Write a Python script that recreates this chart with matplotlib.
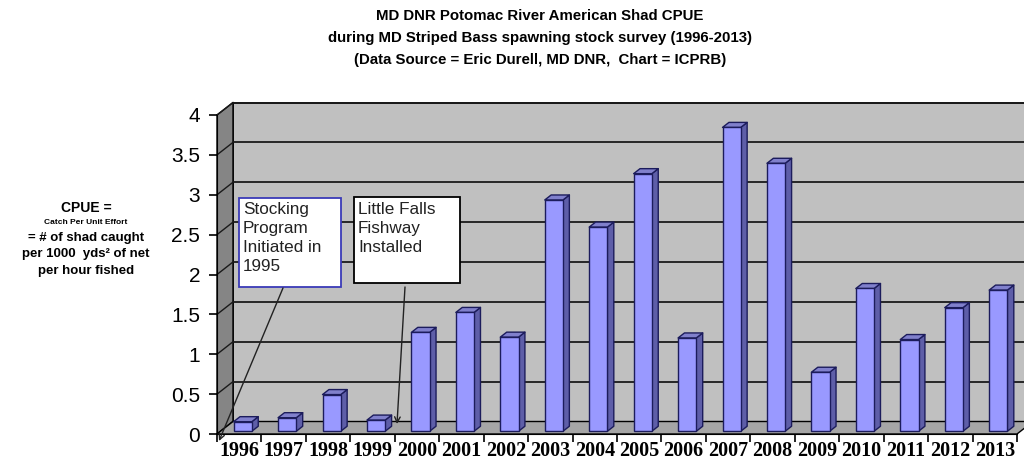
import numpy as np
import matplotlib
matplotlib.use('Agg')
import matplotlib.pyplot as plt
from matplotlib import font_manager
from matplotlib.patches import Polygon, Rectangle
from matplotlib.collections import PolyCollection

years = [str(y) for y in range(1996, 2014)]
cpue = [0.12, 0.17, 0.46, 0.14, 1.24, 1.49, 1.18, 2.90, 2.56,
        3.23, 1.17, 3.81, 3.36, 0.74, 1.79, 1.15, 1.55, 1.77]
yticks = [0, 0.5, 1, 1.5, 2, 2.5, 3, 3.5, 4]
ytick_labels = ['0', '0.5', '1', '1.5', '2', '2.5', '3', '3.5', '4']

title_lines = ['MD DNR Potomac River American Shad CPUE',
               'during MD Striped Bass spawning stock survey (1996-2013)',
               '(Data Source = Eric Durell, MD DNR,  Chart = ICPRB)']

# fonts
names = {f.name for f in font_manager.fontManager.ttflist}
narrow = 'Liberation Sans Narrow' if 'Liberation Sans Narrow' in names else None

W, H = 1024, 470
fig = plt.figure(figsize=(W / 100, H / 100), dpi=100)
fig.patch.set_facecolor('white')

# front plane of the 3d box: x -0.5..17.5 -> 217..1017 px, y 0..4 -> 434..115 px
ax = fig.add_axes([217 / W, (H - 434) / H, 800 / W, 319 / H])
ax.set_xlim(-0.5, 17.5)
ax.set_ylim(0, 4)
ax.patch.set_alpha(0)

n = len(cpue)
x = np.arange(n)
vals = np.array(cpue)

# depth offset of the back wall in data units
ddx = 16 / (800 / 18)
ddy = 12.5 / (319 / 4)
x0, x1 = -0.5, 17.5

wall = '#c0c0c0'
back = Polygon([(x0 + ddx, ddy), (x1 + ddx, ddy), (x1 + ddx, 4 + ddy), (x0 + ddx, 4 + ddy)],
               closed=True, facecolor=wall, edgecolor='black', lw=1.2, clip_on=False, zorder=1)
ax.add_patch(back)
side = Polygon([(x0, 0), (x0 + ddx, ddy), (x0 + ddx, 4 + ddy), (x0, 4)],
               closed=True, facecolor='#858585', edgecolor='black', lw=1.0, clip_on=False, zorder=1)
ax.add_patch(side)
floor = Polygon([(x0, 0), (x1, 0), (x1 + ddx, ddy), (x0 + ddx, ddy)],
                closed=True, facecolor='#a6a6a6', edgecolor='black', lw=1.0, clip_on=False, zorder=2)
ax.add_patch(floor)

# gridlines on the back wall and the side wall
for v in yticks[1:]:
    ax.plot([x0 + ddx, x1 + ddx], [v + ddy, v + ddy], color='#1a1a1a', lw=1.3,
            clip_on=False, zorder=1.5, solid_capstyle='butt')
for v in yticks:
    ax.plot([x0, x0 + ddx], [v, v + ddy], color='#1a1a1a', lw=1.0, clip_on=False, zorder=1.5)

# 3d bars
w = 0.41
t1, t2 = 0.22, 0.62
fx = x + t1 * ddx
by = t1 * ddy
dbx = (t2 - t1) * ddx
dby = (t2 - t1) * ddy
edge = '#1c1c5c'
ax.bar(fx, vals, width=w, bottom=by, color='#9999ff', edgecolor=edge, lw=1.0,
       zorder=5, clip_on=False)
tops, sides = [], []
for xi, v in zip(fx, vals):
    l, r = xi - w / 2, xi + w / 2
    top = by + v
    tops.append([(l, top), (r, top), (r + dbx, top + dby), (l + dbx, top + dby)])
    sides.append([(r, by), (r + dbx, by + dby), (r + dbx, top + dby), (r, top)])
ax.add_collection(PolyCollection(sides, facecolors='#5e5ea8', edgecolors=edge, lw=1.0,
                                 zorder=4, clip_on=False))
ax.add_collection(PolyCollection(tops, facecolors='#8080cc', edgecolors=edge, lw=1.0,
                                 zorder=4, clip_on=False))

# axes and ticks
for s in ['top', 'right']:
    ax.spines[s].set_visible(False)
ax.spines['left'].set_zorder(3)
ax.spines['bottom'].set_zorder(3)
ax.set_yticks(yticks)
ax.set_yticklabels(ytick_labels, fontsize=15, family='Liberation Sans')
ax.tick_params(axis='y', direction='out', length=6, width=1.2, pad=6)
ax.set_xticks(np.arange(-0.5, 18, 1))
ax.set_xticklabels([])
ax.set_xticks(x, minor=True)
ax.set_xticklabels(years, minor=True, fontsize=14.5, family='Liberation Serif', fontweight='bold')
ax.tick_params(axis='x', which='major', direction='out', length=6, width=1.2)
ax.tick_params(axis='x', which='minor', length=0, pad=5)

# annotation boxes
def px(p):
    return x0 + (p - 217) / (800 / 18)

def py(p):
    return (434 - p) / (319 / 4)

box_font = dict(fontsize=12.3, family='Liberation Sans', color='#222222')
ax.add_patch(Rectangle((px(239), py(287)), px(341) - px(239), py(198) - py(287),
                       facecolor='white', edgecolor='#3a3ab8', lw=1.3, clip_on=False, zorder=8))
ax.text(px(243), py(202), 'Stocking\nProgram\nInitiated in\n1995', va='top', ha='left',
        linespacing=1.32, zorder=9, **box_font)
ax.add_patch(Rectangle((px(354), py(283)), px(460) - px(354), py(197) - py(283),
                       facecolor='white', edgecolor='black', lw=1.3, clip_on=False, zorder=8))
ax.text(px(358), py(202), 'Little Falls\nFishway\nInstalled', va='top', ha='left',
        linespacing=1.32, zorder=9, **box_font)

arrow = dict(arrowstyle='->', color='#222222', lw=1.0, shrinkA=0, shrinkB=0)
ax.annotate('', xy=(px(219), py(441)), xytext=(px(283), py(288)), arrowprops=arrow,
            annotation_clip=False, zorder=9)
ax.annotate('', xy=(px(397), py(424)), xytext=(px(405), py(287)), arrowprops=arrow,
            annotation_clip=False, zorder=9)

# title
if narrow:
    tfont = dict(family=narrow, fontsize=12.5, fontweight='bold')
else:
    tfont = dict(family='Liberation Sans', fontsize=10.8, fontweight='bold')
for i, line in enumerate(title_lines):
    fig.text(540 / W, 1 - (16 + 22 * i) / H, line, ha='center', va='center', **tfont)

# y-axis description
lab = dict(ha='center', va='center', family='Liberation Sans', fontweight='bold')
fig.text(86 / W, 1 - 208 / H, 'CPUE =', fontsize=10, **lab)
fig.text(86 / W, 1 - 222 / H, 'Catch Per Unit Effort', fontsize=6, **lab)
fig.text(86 / W, 1 - 238 / H, '= # of shad caught', fontsize=9.5, **lab)
fig.text(86 / W, 1 - 254 / H, 'per 1000  yds\u00b2 of net', fontsize=9.5, **lab)
fig.text(86 / W, 1 - 271 / H, 'per hour fished', fontsize=9.5, **lab)

fig.savefig('out.png', dpi=100)
